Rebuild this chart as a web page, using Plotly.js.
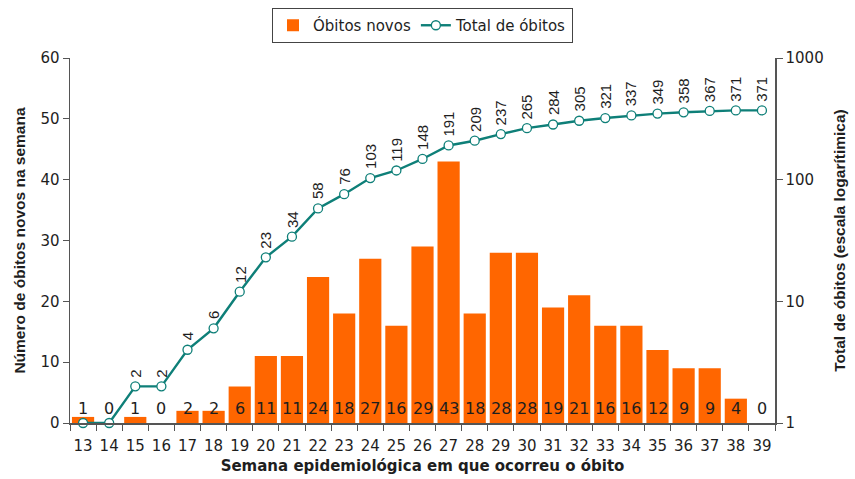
<!DOCTYPE html>
<html><head><meta charset="utf-8">
<script src="https://cdn.plot.ly/plotly-3.0.1.min.js"></script>
<style>html,body{margin:0;padding:0;background:#fff}</style>
</head><body><div id="chart" style="width:855px;height:479px"></div>
<script>
const weeks = ['13','14','15','16','17','18','19','20','21','22','23','24','25','26','27','28','29','30','31','32','33','34','35','36','37','38','39'];
const newDeaths = [1,0,1,0,2,2,6,11,11,24,18,27,16,29,43,18,28,28,19,21,16,16,12,9,9,4,0];
const totalDeaths = [1,1,2,2,4,6,12,23,34,58,76,103,119,148,191,209,237,265,284,305,321,337,349,358,367,371,371];
const leftTicks = [0,10,20,30,40,50,60];
const rightTicks = [1,10,100,1000];
const firstLabelledTotal = 2;

const FONT = 'DejaVu Sans, sans-serif';
const NARROW = 'Liberation Sans, Arial, sans-serif';
const ORANGE = '#FF6600';
const TEAL = '#0E7F78';
const TXT = '#1e1e1e';

const traces = [
  {type:'bar', x:weeks, y:newDeaths, name:'Óbitos novos', marker:{color:ORANGE}, hoverinfo:'skip'},
  {type:'scatter', mode:'lines+markers', x:weeks, y:totalDeaths, yaxis:'y2', name:'Total de óbitos',
   line:{color:TEAL,width:2.4}, marker:{symbol:'circle',size:9,color:'#fff',line:{color:TEAL,width:1.3}},
   hoverinfo:'skip', cliponaxis:false}
];

const annotations = [];
for (let i = 0; i < weeks.length; i++) {
  annotations.push({x:i, y:0, xref:'x', yref:'y', text:String(newDeaths[i]),
    showarrow:false, yanchor:'bottom', xanchor:'center', yshift:3,
    font:{family:FONT,size:16,color:TXT}});
}
for (let i = firstLabelledTotal; i < weeks.length; i++) {
  annotations.push({x:i, y:Math.log10(totalDeaths[i]), xref:'x', yref:'y2', text:String(totalDeaths[i]),
    textangle:-90, showarrow:false, yanchor:'bottom', xanchor:'center', yshift:7,
    font:{family:NARROW,size:15,color:TXT}});
}

const layout = {
  width:855, height:479,
  margin:{l:70, r:80, t:58, b:56, autoexpand:false},
  paper_bgcolor:'#fff', plot_bgcolor:'#fff',
  font:{family:FONT, size:15, color:TXT},
  bargap:0.15,
  showlegend:true,
  legend:{orientation:'h', x:0.5, xanchor:'center', y:1.137, yanchor:'top',
    bordercolor:'#444', borderwidth:1, font:{family:FONT,size:15,color:TXT}, tracegroupgap:0},
  xaxis:{type:'category', range:[-0.5, 26.5], tickson:'boundaries', ticks:'outside', ticklen:6, tickcolor:'#555',
    tickangle:0, ticklabelstandoff:8,
    showline:true, linecolor:'#555', linewidth:1.5, showgrid:false, zeroline:false,
    tickfont:{family:FONT,size:15,color:TXT},
    title:{text:'<b>Semana epidemiológica em que ocorreu o óbito</b>', font:{family:FONT,size:15,color:TXT}, standoff:7}},
  yaxis:{range:[0,60], tickvals:leftTicks, ticks:'outside', ticklen:6, tickcolor:'#555',
    showline:true, linecolor:'#555', linewidth:1.5, showgrid:false, zeroline:false,
    tickfont:{family:FONT,size:15,color:TXT},
    title:{text:'<b>Número de óbitos novos na semana</b>', font:{family:NARROW,size:15.5,color:TXT}, standoff:11}},
  yaxis2:{type:'log', range:[0,3], overlaying:'y', side:'right', tickvals:rightTicks, ticktext:rightTicks.map(String),
    ticks:'outside', ticklen:6, tickcolor:'#555', showline:true, linecolor:'#555', linewidth:1.5,
    showgrid:false, zeroline:false, tickfont:{family:FONT,size:15,color:TXT},
    title:{text:'<b>Total de óbitos (escala logarítimica)</b>', font:{family:NARROW,size:15.5,color:TXT}, standoff:11}},
  annotations:annotations
};

Plotly.newPlot('chart', traces, layout, {displayModeBar:false, staticPlot:true});
</script></body></html>
